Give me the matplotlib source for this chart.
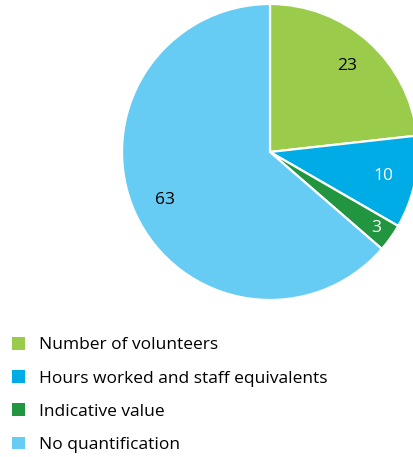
import matplotlib
matplotlib.use("Agg")
import matplotlib.pyplot as plt
from matplotlib.patches import Patch

plt.rcParams['font.family'] = ['Open Sans', 'DejaVu Sans']

categories = ["Number of volunteers", "Hours worked and staff equivalents",
              "Indicative value", "No quantification"]
values = [23, 10, 3, 63]
colors = ["#9BCB4B", "#00ACE6", "#229540", "#66CCF3"]
label_colors = ["black", "white", "white", "black"]

W, H = 414, 457
fig = plt.figure(figsize=(W / 100, H / 100), dpi=100)

cx, cy, r = 270, 152, 148
ax = fig.add_axes([(cx - r) / W, 1 - (cy + r) / H, 2 * r / W, 2 * r / H])

total = sum(values)
wedges, texts, autotexts = ax.pie(
    values, colors=colors, startangle=90, counterclock=False, radius=1,
    autopct=lambda p: f"{round(p * total / 100):d}", pctdistance=0.78,
    wedgeprops=dict(edgecolor="white", linewidth=1.6),
    textprops=dict(fontsize=12.5))
for t, c in zip(autotexts, label_colors):
    t.set_color(c)
# push the narrow wedge's label out toward the rim
x, y = autotexts[2].get_position()
autotexts[2].set_position((x * 0.88 / 0.78, y * 0.88 / 0.78))
ax.set_xlim(-1, 1)
ax.set_ylim(-1, 1)
ax.set_aspect("equal")
ax.axis("off")

handles = [Patch(facecolor=c, edgecolor="none") for c in colors]
fig.legend(handles, categories, loc="upper left",
           bbox_to_anchor=(5 / W, 1 - 330 / H), frameon=False,
           fontsize=12.5, handlelength=0.75, handleheight=0.75,
           handletextpad=0.8, labelspacing=0.97, borderaxespad=0)

fig.savefig("out.png", dpi=100)
